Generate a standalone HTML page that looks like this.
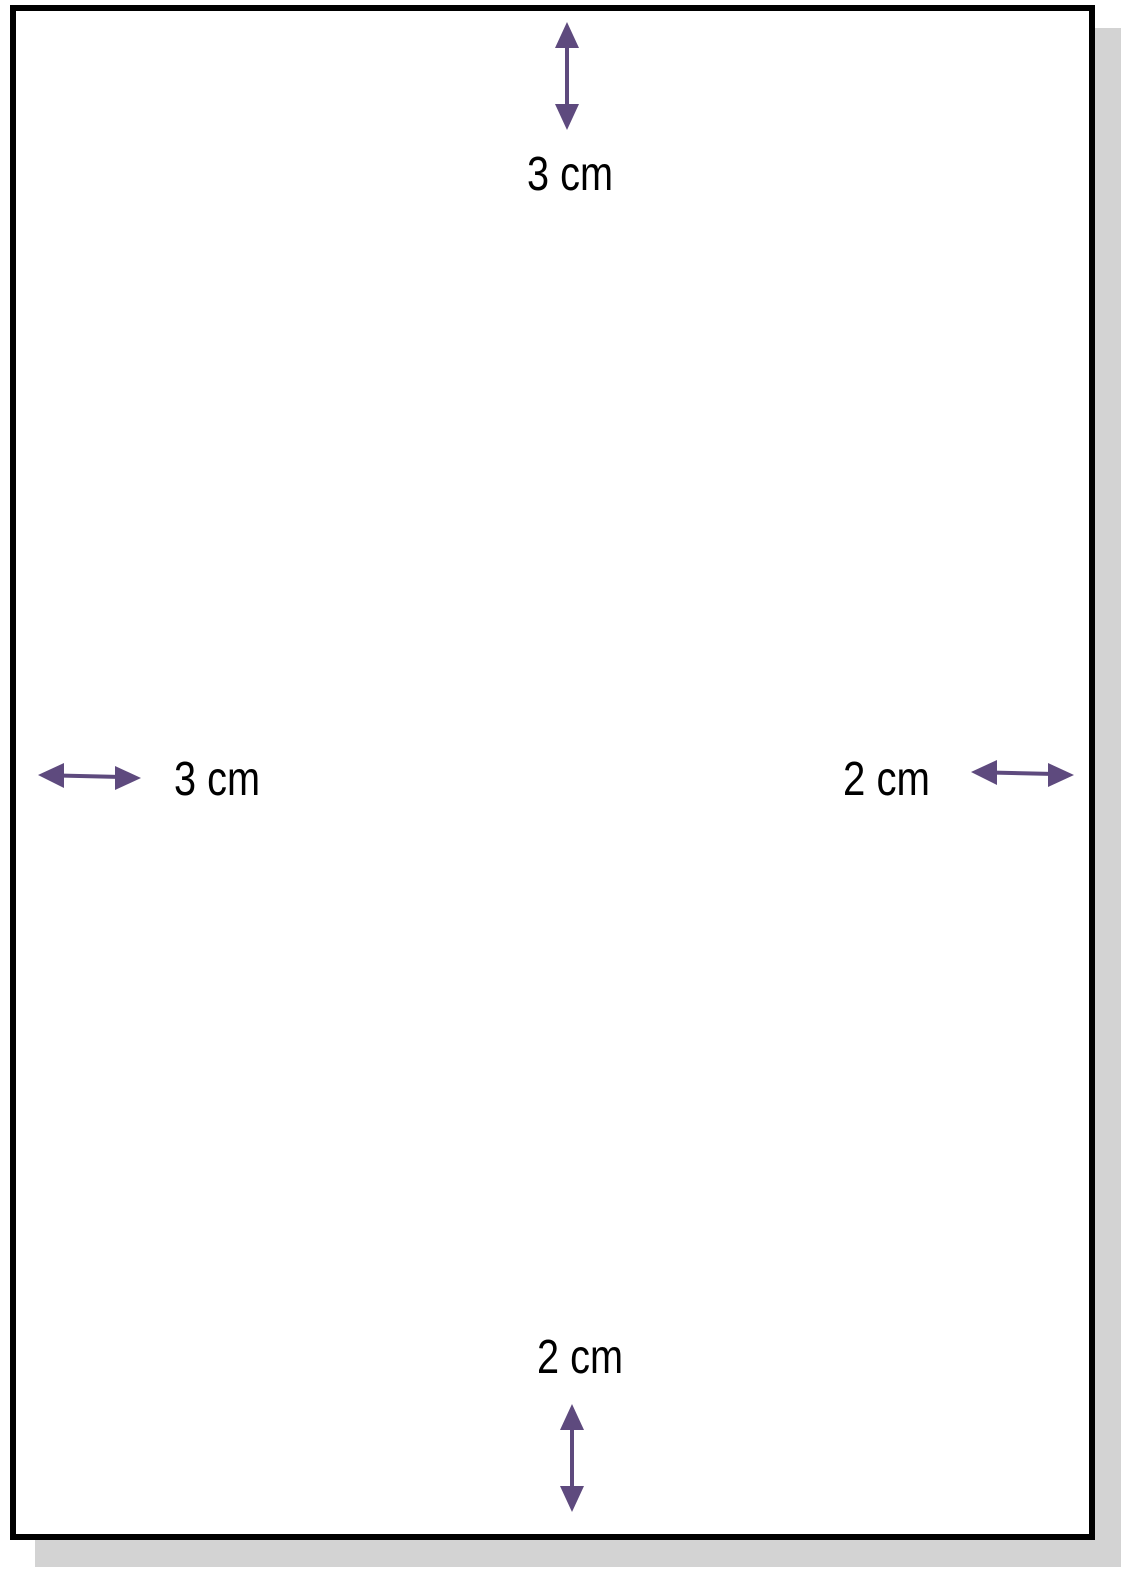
<!DOCTYPE html>
<html>
<head>
<meta charset="utf-8">
<style>
html,body{margin:0;padding:0;background:#fff;}
svg{display:block;}
text{font-family:"Liberation Sans",sans-serif;font-size:48px;fill:#000;}
</style>
</head>
<body>
<svg width="1137" height="1591" viewBox="0 0 1137 1591" xmlns="http://www.w3.org/2000/svg">
  <rect x="35" y="28" width="1086" height="1539" fill="#d3d3d3"/>
  <rect x="13" y="8" width="1079" height="1529" fill="#fff" stroke="#000" stroke-width="6"/>

  <g fill="#5e4a7e" stroke="#5e4a7e">
    <line x1="567" y1="40" x2="567" y2="110" stroke-width="4"/>
    <polygon points="567,22 555,48 579,48" stroke="none"/>
    <polygon points="567,130 555,104 579,104" stroke="none"/>
  </g>
  <text x="527" y="190" textLength="86" lengthAdjust="spacingAndGlyphs">3 cm</text>

  <g fill="#5e4a7e" stroke="#5e4a7e">
    <line x1="58" y1="775.5" x2="122" y2="777" stroke-width="4"/>
    <polygon points="38,775 64,763 64,788" stroke="none"/>
    <polygon points="141,778 115,766 115,790" stroke="none"/>
  </g>
  <text x="174" y="795" textLength="86" lengthAdjust="spacingAndGlyphs">3 cm</text>

  <g fill="#5e4a7e" stroke="#5e4a7e">
    <line x1="990" y1="772.5" x2="1055" y2="774" stroke-width="4"/>
    <polygon points="971,772 997,760 997,785" stroke="none"/>
    <polygon points="1074,775 1048,763 1048,787" stroke="none"/>
  </g>
  <text x="843" y="795" textLength="87" lengthAdjust="spacingAndGlyphs">2 cm</text>

  <text x="537" y="1373" textLength="86" lengthAdjust="spacingAndGlyphs">2 cm</text>
  <g fill="#5e4a7e" stroke="#5e4a7e">
    <line x1="572" y1="1422" x2="572" y2="1494" stroke-width="4"/>
    <polygon points="572,1404 560,1430 584,1430" stroke="none"/>
    <polygon points="572,1512 560,1486 584,1486" stroke="none"/>
  </g>
</svg>
</body>
</html>
